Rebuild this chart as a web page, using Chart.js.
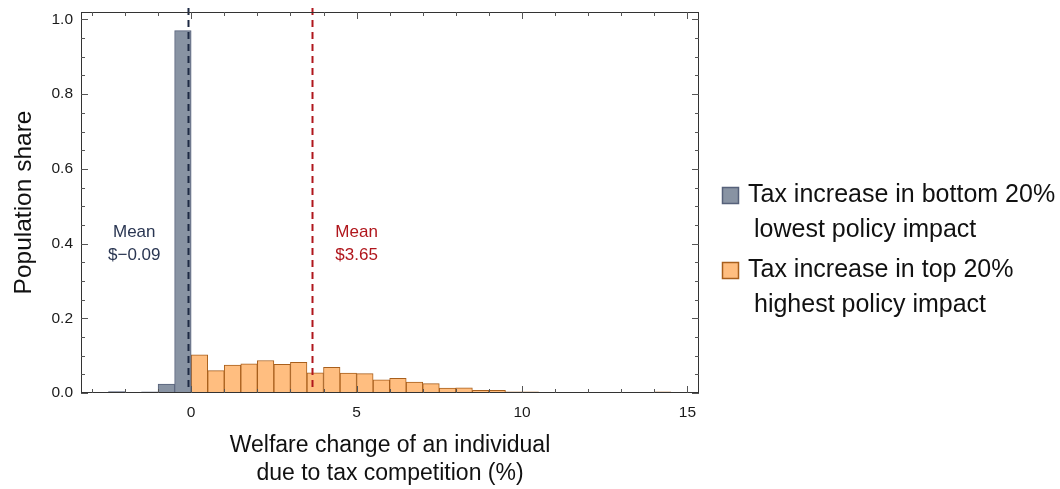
<!DOCTYPE html>
<html>
<head>
<meta charset="utf-8">
<script src="https://cdn.jsdelivr.net/npm/chart.js@4/dist/chart.umd.min.js"></script>
<style>
  html, body { margin: 0; padding: 0; background: #ffffff; }
  canvas { display: block; }
</style>
</head>
<body>
<canvas id="hist" width="1060" height="489"></canvas>
<script>
// Histogram bins (bin centres, width 0.5) and population shares
const lowBinCentres = [-2.25, -1.25, -0.75, -0.25];
const lowShares = [0.004, 0.003, 0.024, 0.970];

const highBinCentres = [0.25, 0.75, 1.25, 1.75, 2.25, 2.75, 3.25, 3.75, 4.25, 4.75,
  5.25, 5.75, 6.25, 6.75, 7.25, 7.75, 8.25, 8.75, 9.25, 9.75, 10.25,
  11.75, 12.25, 12.75, 13.25, 13.75, 14.25];
const highShares = [0.102, 0.060, 0.075, 0.078, 0.087, 0.077, 0.082, 0.054, 0.069, 0.053,
  0.052, 0.035, 0.039, 0.029, 0.025, 0.013, 0.014, 0.007, 0.007, 0.003, 0.003,
  0.002, 0.002, 0.002, 0.002, 0.002, 0.003];

// Mean welfare change of each group
const lowMean = -0.09;
const highMean = 3.65;
const lowMeanLabel = ['Mean', '$\u22120.09'];
const highMeanLabel = ['Mean', '$3.65'];

// Legend entries and axis titles
const lowLegend = ['Tax increase in bottom 20%', 'lowest policy impact'];
const highLegend = ['Tax increase in top 20%', 'highest policy impact'];
const xTitle = ['Welfare change of an individual', 'due to tax competition (%)'];
const yTitle = 'Population share';

const FONT = '"Liberation Sans", Arial, Helvetica, sans-serif';
const GREY_FILL = '#8893a3';
const GREY_EDGE = '#56617a';
const ORANGE_FILL = '#ffbe80';
const ORANGE_EDGE = '#a85f1c';
const NAVY = '#1c2943';
const RED = '#b0161c';

const toPoints = (xs, ys) => xs.map((x, i) => ({ x: x, y: ys[i] }));

// Frame with inward ticks, mean lines, annotations and the side legend
const decorations = {
  id: 'decorations',
  afterDatasetsDraw(chart) {
    const ctx = chart.ctx;
    const area = chart.chartArea;
    const xs = chart.scales.x;
    const ys = chart.scales.y;

    // dashed mean lines
    const meanLine = (value, color) => {
      const px = Math.round(xs.getPixelForValue(value)) + 0.5;
      ctx.save();
      ctx.strokeStyle = color;
      ctx.lineWidth = 2;
      ctx.setLineDash([7, 5]);
      ctx.beginPath();
      ctx.moveTo(px, area.top - 4);
      ctx.lineTo(px, area.bottom);
      ctx.stroke();
      ctx.restore();
    };
    meanLine(lowMean, NAVY);
    meanLine(highMean, RED);

    // mean annotations
    const note = (lines, xv, yv, color) => {
      ctx.save();
      ctx.fillStyle = color;
      ctx.font = '17px ' + FONT;
      ctx.textAlign = 'center';
      ctx.textBaseline = 'middle';
      const px = xs.getPixelForValue(xv);
      const py = ys.getPixelForValue(yv);
      lines.forEach((t, i) => ctx.fillText(t, px, py + i * 23));
      ctx.restore();
    };
    note(lowMeanLabel, -1.72, 0.43, '#2a3652');
    note(highMeanLabel, 5.0, 0.43, RED);

    // frame
    ctx.save();
    ctx.strokeStyle = '#333333';
    ctx.lineWidth = 1;
    ctx.strokeRect(Math.round(area.left) + 0.5, Math.round(area.top) + 0.5,
      Math.round(area.right - area.left) - 1, Math.round(area.bottom - area.top) - 1);

    // ticks pointing into the plot on all four sides
    ctx.strokeStyle = '#555555';
    ctx.beginPath();
    for (let v = Math.ceil(xs.min); v <= Math.floor(xs.max); v++) {
      const px = Math.round(xs.getPixelForValue(v)) + 0.5;
      const len = v % 5 === 0 ? 7 : 4;
      ctx.moveTo(px, area.bottom);
      ctx.lineTo(px, area.bottom - len);
      ctx.moveTo(px, area.top);
      ctx.lineTo(px, area.top + len);
    }
    for (let k = 0; k <= 20; k++) {
      const v = k * 0.05;
      const py = Math.round(ys.getPixelForValue(v)) + 0.5;
      const len = k % 4 === 0 ? 7 : 4;
      ctx.moveTo(area.left, py);
      ctx.lineTo(area.left + len, py);
      ctx.moveTo(area.right, py);
      ctx.lineTo(area.right - len, py);
    }
    ctx.stroke();
    ctx.restore();

    // legend
    ctx.save();
    ctx.font = '25px ' + FONT;
    ctx.textBaseline = 'middle';
    const entries = [
      { ds: chart.data.datasets[0], top: 195 },
      { ds: chart.data.datasets[1], top: 270 }
    ];
    entries.forEach(e => {
      ctx.fillStyle = e.ds.backgroundColor;
      ctx.fillRect(722, e.top - 8, 17, 17);
      ctx.strokeStyle = e.ds.borderColor;
      ctx.lineWidth = 1.5;
      ctx.strokeRect(722.5, e.top - 7.5, 16, 16);
      ctx.fillStyle = '#111111';
      ctx.fillText(e.ds.label[0], 748, e.top);
      ctx.fillText(e.ds.label[1], 754, e.top + 35);
    });
    ctx.restore();
  }
};

const noEdgePadding = scale => {
  scale.paddingTop = 0;
  scale.paddingBottom = 0;
  scale.paddingLeft = 0;
  scale.paddingRight = 0;
};

new Chart(document.getElementById('hist'), {
  type: 'bar',
  data: {
    datasets: [
      {
        label: lowLegend,
        data: toPoints(lowBinCentres, lowShares),
        backgroundColor: GREY_FILL,
        borderColor: GREY_EDGE,
        borderWidth: 1
      },
      {
        label: highLegend,
        data: toPoints(highBinCentres, highShares),
        backgroundColor: ORANGE_FILL,
        borderColor: ORANGE_EDGE,
        borderWidth: 1
      }
    ]
  },
  options: {
    responsive: false,
    animation: false,
    devicePixelRatio: 1,
    layout: { padding: { top: 12, right: 361, bottom: 0, left: 0 } },
    datasets: {
      bar: { grouped: false, barPercentage: 1, categoryPercentage: 1, borderSkipped: false }
    },
    plugins: { legend: { display: false }, tooltip: { enabled: false } },
    scales: {
      x: {
        type: 'linear',
        offset: false,
        min: -3.33,
        max: 15.35,
        grid: { display: false, drawTicks: false },
        border: { display: false },
        ticks: {
          stepSize: 5, includeBounds: false, padding: 10, maxRotation: 0,
          color: '#1a1a1a', font: { family: FONT, size: 15.5 }
        },
        title: {
          display: true, text: xTitle, color: '#111111',
          font: { family: FONT, size: 23 }, padding: { top: 0, bottom: 2 }
        },
        afterFit(scale) { scale.height = 96; noEdgePadding(scale); }
      },
      y: {
        type: 'linear',
        min: 0,
        max: 1.02,
        grid: { display: false, drawTicks: false },
        border: { display: false },
        ticks: {
          stepSize: 0.2, includeBounds: false, padding: 8,
          color: '#1a1a1a', font: { family: FONT, size: 15.5 },
          callback: v => Number(v).toFixed(1)
        },
        title: {
          display: true, text: yTitle, color: '#111111',
          font: { family: FONT, size: 24.5 }, padding: { top: 10, bottom: 0 }
        },
        afterFit(scale) { scale.width = 81; noEdgePadding(scale); }
      }
    }
  },
  plugins: [decorations]
});
</script>
</body>
</html>
